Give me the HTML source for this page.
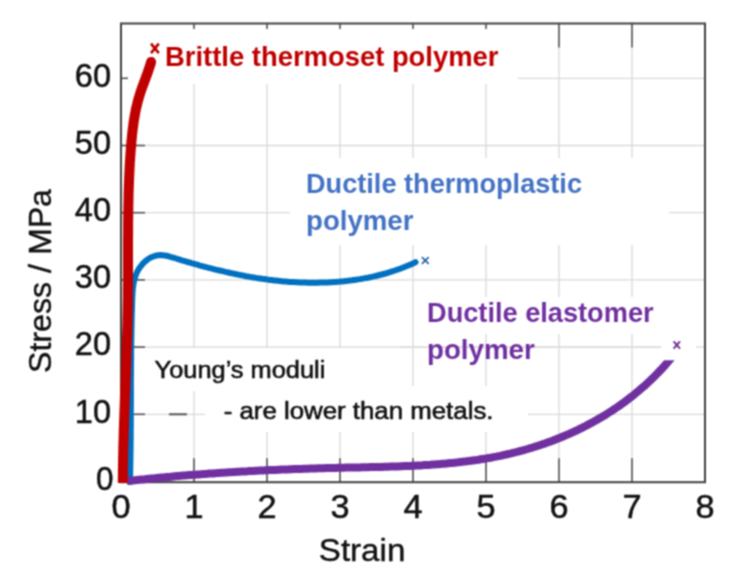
<!DOCTYPE html>
<html><head><meta charset="utf-8"><style>
html,body{margin:0;padding:0;background:#fff;width:753px;height:571px;overflow:hidden}
svg{display:block}
text{font-family:"Liberation Sans",sans-serif}
.tk{font-size:33.5px;fill:#111;stroke:#111;stroke-width:0.5px}
.ax{font-size:31px;fill:#111;stroke:#111;stroke-width:0.4px}
.lb{font-size:27.5px;font-weight:bold}
.yt{font-size:23px;fill:#111;stroke:#111;stroke-width:0.55px}
.mk{font-size:19px;font-weight:bold}
.mk2{font-size:14px;font-weight:bold}
</style></head><body>
<svg width="753" height="571" viewBox="0 0 753 571">
<defs><filter id="bl" x="0" y="0" width="753" height="571" filterUnits="userSpaceOnUse" color-interpolation-filters="sRGB"><feConvolveMatrix order="3" kernelMatrix="1 2 1 2 4 2 1 2 1" divisor="16" edgeMode="duplicate"/></filter></defs><g filter="url(#bl)">
<rect x="0" y="0" width="753" height="571" fill="#fff"/>
<line x1="194.0" y1="23.5" x2="194.0" y2="482.2" stroke="#d9d9d9" stroke-width="1.3"/>
<line x1="267.0" y1="23.5" x2="267.0" y2="482.2" stroke="#d9d9d9" stroke-width="1.3"/>
<line x1="340.0" y1="23.5" x2="340.0" y2="482.2" stroke="#d9d9d9" stroke-width="1.3"/>
<line x1="413.0" y1="23.5" x2="413.0" y2="482.2" stroke="#d9d9d9" stroke-width="1.3"/>
<line x1="486.0" y1="23.5" x2="486.0" y2="482.2" stroke="#d9d9d9" stroke-width="1.3"/>
<line x1="559.0" y1="23.5" x2="559.0" y2="482.2" stroke="#d9d9d9" stroke-width="1.3"/>
<line x1="632.0" y1="23.5" x2="632.0" y2="482.2" stroke="#d9d9d9" stroke-width="1.3"/>
<line x1="121" y1="414.3" x2="705" y2="414.3" stroke="#d9d9d9" stroke-width="1.3"/>
<line x1="121" y1="347.1" x2="705" y2="347.1" stroke="#d9d9d9" stroke-width="1.3"/>
<line x1="121" y1="279.9" x2="705" y2="279.9" stroke="#d9d9d9" stroke-width="1.3"/>
<line x1="121" y1="212.7" x2="705" y2="212.7" stroke="#d9d9d9" stroke-width="1.3"/>
<line x1="121" y1="145.5" x2="705" y2="145.5" stroke="#d9d9d9" stroke-width="1.3"/>
<line x1="121" y1="78.3" x2="705" y2="78.3" stroke="#d9d9d9" stroke-width="1.3"/>
<line x1="194.0" y1="23.5" x2="194.0" y2="47.5" stroke="#555555" stroke-width="1.6"/>
<line x1="194.0" y1="482.2" x2="194.0" y2="458.2" stroke="#555555" stroke-width="1.6"/>
<line x1="267.0" y1="23.5" x2="267.0" y2="47.5" stroke="#555555" stroke-width="1.6"/>
<line x1="267.0" y1="482.2" x2="267.0" y2="458.2" stroke="#555555" stroke-width="1.6"/>
<line x1="340.0" y1="23.5" x2="340.0" y2="47.5" stroke="#555555" stroke-width="1.6"/>
<line x1="340.0" y1="482.2" x2="340.0" y2="458.2" stroke="#555555" stroke-width="1.6"/>
<line x1="413.0" y1="23.5" x2="413.0" y2="47.5" stroke="#555555" stroke-width="1.6"/>
<line x1="413.0" y1="482.2" x2="413.0" y2="458.2" stroke="#555555" stroke-width="1.6"/>
<line x1="486.0" y1="23.5" x2="486.0" y2="47.5" stroke="#555555" stroke-width="1.6"/>
<line x1="486.0" y1="482.2" x2="486.0" y2="458.2" stroke="#555555" stroke-width="1.6"/>
<line x1="559.0" y1="23.5" x2="559.0" y2="47.5" stroke="#555555" stroke-width="1.6"/>
<line x1="559.0" y1="482.2" x2="559.0" y2="458.2" stroke="#555555" stroke-width="1.6"/>
<line x1="632.0" y1="23.5" x2="632.0" y2="47.5" stroke="#555555" stroke-width="1.6"/>
<line x1="632.0" y1="482.2" x2="632.0" y2="458.2" stroke="#555555" stroke-width="1.6"/>
<line x1="121" y1="414.3" x2="145" y2="414.3" stroke="#555555" stroke-width="1.6"/>
<line x1="121" y1="347.1" x2="145" y2="347.1" stroke="#555555" stroke-width="1.6"/>
<line x1="121" y1="279.9" x2="145" y2="279.9" stroke="#555555" stroke-width="1.6"/>
<line x1="121" y1="212.7" x2="145" y2="212.7" stroke="#555555" stroke-width="1.6"/>
<line x1="121" y1="145.5" x2="145" y2="145.5" stroke="#555555" stroke-width="1.6"/>
<line x1="121" y1="78.3" x2="145" y2="78.3" stroke="#555555" stroke-width="1.6"/>
<rect x="128" y="29" width="390" height="55" fill="#fff"/>
<rect x="290" y="158" width="379" height="87" fill="#fff"/>
<rect x="139" y="348" width="212" height="43" fill="#fff"/>
<rect x="205" y="386" width="323" height="46" fill="#fff"/>
<rect x="418" y="297" width="247" height="37" fill="#fff"/>
<rect x="661" y="337" width="35" height="18" fill="#fff"/>
<line x1="400" y1="347.1" x2="661" y2="347.1" stroke="#d9d9d9" stroke-width="1.3"/>
<line x1="169" y1="414.3" x2="187" y2="414.3" stroke="#555" stroke-width="2"/>
<rect x="121" y="23.5" width="584" height="458.7" fill="none" stroke="#404040" stroke-width="2"/>
<text x="96.0" y="489.7" class="tk" textLength="17.5" lengthAdjust="spacingAndGlyphs">0</text>
<text x="74.8" y="422.5" class="tk" textLength="36.2" lengthAdjust="spacingAndGlyphs">10</text>
<text x="74.8" y="355.3" class="tk" textLength="36.2" lengthAdjust="spacingAndGlyphs">20</text>
<text x="74.8" y="288.1" class="tk" textLength="36.2" lengthAdjust="spacingAndGlyphs">30</text>
<text x="74.8" y="220.9" class="tk" textLength="36.2" lengthAdjust="spacingAndGlyphs">40</text>
<text x="74.8" y="153.7" class="tk" textLength="36.2" lengthAdjust="spacingAndGlyphs">50</text>
<text x="74.8" y="86.5" class="tk" textLength="36.2" lengthAdjust="spacingAndGlyphs">60</text>
<text x="111.5" y="518" class="tk" textLength="19.1" lengthAdjust="spacingAndGlyphs">0</text>
<text x="184.4" y="518" class="tk" textLength="19.1" lengthAdjust="spacingAndGlyphs">1</text>
<text x="257.4" y="518" class="tk" textLength="19.1" lengthAdjust="spacingAndGlyphs">2</text>
<text x="330.4" y="518" class="tk" textLength="19.1" lengthAdjust="spacingAndGlyphs">3</text>
<text x="403.4" y="518" class="tk" textLength="19.1" lengthAdjust="spacingAndGlyphs">4</text>
<text x="476.4" y="518" class="tk" textLength="19.1" lengthAdjust="spacingAndGlyphs">5</text>
<text x="549.5" y="518" class="tk" textLength="19.1" lengthAdjust="spacingAndGlyphs">6</text>
<text x="622.5" y="518" class="tk" textLength="19.1" lengthAdjust="spacingAndGlyphs">7</text>
<text x="695.5" y="518" class="tk" textLength="19.1" lengthAdjust="spacingAndGlyphs">8</text>
<text x="318.8" y="561" class="ax" textLength="86.5" lengthAdjust="spacingAndGlyphs">Strain</text>
<text transform="translate(50.8,373) rotate(-90)" x="0" y="0" class="ax" textLength="184" lengthAdjust="spacingAndGlyphs">Stress / MPa</text>
<path d="M129.9,482.0 L130.0,480.0 L130.1,478.0 L130.1,476.0 L130.1,474.0 L130.2,472.0 L130.2,470.0 L130.3,468.0 L130.3,466.0 L130.3,464.0 L130.4,462.0 L130.4,460.0 L130.4,457.9 L130.5,455.9 L130.5,453.9 L130.5,451.9 L130.6,449.9 L130.6,447.9 L130.6,445.9 L130.6,443.9 L130.6,441.9 L130.7,439.9 L130.7,437.9 L130.7,435.9 L130.7,433.9 L130.7,431.8 L130.7,429.8 L130.8,427.8 L130.8,425.8 L130.8,423.8 L130.8,421.8 L130.8,419.8 L130.8,417.8 L130.8,415.8 L130.8,413.8 L130.8,411.8 L130.8,409.8 L130.8,407.7 L130.9,405.7 L130.9,403.7 L130.9,401.7 L130.9,399.7 L130.9,397.7 L130.9,395.7 L130.9,393.7 L130.9,391.7 L130.9,389.7 L130.9,387.7 L130.9,385.7 L130.9,383.6 L130.9,381.6 L130.9,379.6 L130.9,377.6 L131.0,375.6 L131.0,373.6 L131.0,371.6 L131.0,369.6 L131.0,367.6 L131.0,365.6 L131.0,363.6 L131.0,361.6 L131.1,359.6 L131.1,357.5 L131.1,355.5 L131.1,353.5 L131.1,351.5 L131.1,349.5 L131.2,347.5 L131.2,345.5 L131.2,343.5 L131.2,341.5 L131.3,339.5 L131.3,337.5 L131.3,335.5 L131.4,333.4 L131.4,331.4 L131.4,329.4 L131.5,327.4 L131.5,325.4 L131.6,323.4 L131.6,321.4 L131.6,319.4 L131.7,317.4 L131.7,315.4 L131.8,313.4 L131.9,311.4 L131.9,309.4 L132.0,307.3 L132.0,305.3 L132.1,303.3 L132.2,301.3 L132.2,299.3 L132.3,297.3 L132.4,295.3 L132.5,293.3 L132.6,291.3 L132.8,289.3 L133.0,287.3 L133.3,285.3 L133.6,283.3 L134.0,281.4 L134.4,279.4 L135.0,277.5 L135.6,275.6 L136.4,273.7 L137.2,271.9 L138.2,270.1 L139.2,268.4 L140.3,266.7 L141.6,265.2 L142.9,263.6 L144.3,262.2 L145.8,260.9 L147.4,259.6 L149.0,258.5 L150.8,257.5 L152.6,256.7 L154.5,256.0 L156.4,255.5 L158.4,255.2 L160.4,255.1 L162.4,255.2 L164.4,255.4 L166.4,255.8 L168.3,256.2 L170.3,256.8 L172.2,257.3 L174.1,257.9 L176.1,258.5 L178.0,259.1 L179.9,259.7 L181.8,260.3 L183.7,260.8 L185.7,261.4 L187.6,262.0 L189.5,262.5 L191.5,263.1 L193.4,263.6 L195.3,264.2 L197.3,264.7 L199.2,265.3 L201.1,265.8 L203.1,266.3 L205.0,266.8 L206.9,267.3 L208.9,267.8 L210.8,268.3 L212.8,268.8 L214.7,269.3 L216.7,269.8 L218.6,270.3 L220.6,270.7 L222.5,271.2 L224.5,271.7 L226.4,272.1 L228.4,272.5 L230.4,273.0 L232.3,273.4 L234.3,273.8 L236.3,274.2 L238.2,274.6 L240.2,275.0 L242.2,275.4 L244.1,275.8 L246.1,276.2 L248.1,276.5 L250.1,276.9 L252.0,277.2 L254.0,277.5 L256.0,277.9 L258.0,278.2 L260.0,278.5 L262.0,278.8 L264.0,279.1 L265.9,279.3 L267.9,279.6 L269.9,279.9 L271.9,280.1 L273.9,280.4 L275.9,280.6 L277.9,280.8 L279.9,281.0 L281.9,281.2 L283.9,281.4 L285.9,281.5 L287.9,281.7 L289.9,281.9 L291.9,282.0 L293.9,282.1 L295.9,282.2 L297.9,282.3 L299.9,282.4 L301.9,282.5 L303.9,282.6 L306.0,282.6 L308.0,282.7 L310.0,282.7 L312.0,282.7 L314.0,282.7 L316.0,282.7 L318.0,282.7 L320.0,282.6 L322.0,282.6 L324.0,282.5 L326.0,282.5 L328.0,282.4 L330.0,282.3 L332.0,282.2 L334.1,282.0 L336.1,281.9 L338.1,281.7 L340.1,281.6 L342.1,281.4 L344.1,281.2 L346.1,281.0 L348.0,280.8 L350.0,280.5 L352.0,280.3 L354.0,280.0 L356.0,279.7 L358.0,279.4 L360.0,279.1 L362.0,278.7 L363.9,278.4 L365.9,278.0 L367.9,277.7 L369.9,277.3 L371.8,276.8 L373.8,276.4 L375.7,276.0 L377.7,275.5 L379.6,275.0 L381.6,274.5 L383.5,274.0 L385.5,273.5 L387.4,272.9 L389.3,272.3 L391.2,271.7 L393.1,271.1 L395.0,270.5 L396.9,269.8 L398.8,269.2 L400.7,268.5 L402.6,267.8 L404.5,267.0 L406.3,266.3 L408.2,265.5 L410.0,264.7 L411.9,263.9 L413.7,263.1 L415.5,262.2" fill="none" stroke="#0070c0" stroke-width="6" stroke-linecap="round"/>
<clipPath id="pc"><rect x="0" y="360.2" width="753" height="211"/></clipPath>
<path d="M127.0,481.1 L129.0,480.8 L131.0,480.6 L133.0,480.4 L135.0,480.2 L137.0,480.0 L139.0,479.8 L141.0,479.6 L143.0,479.4 L145.0,479.2 L147.0,478.9 L149.0,478.7 L151.0,478.5 L153.0,478.4 L155.0,478.2 L157.0,478.0 L159.0,477.8 L161.0,477.6 L163.0,477.4 L165.0,477.2 L167.0,477.0 L169.0,476.9 L171.1,476.7 L173.1,476.5 L175.1,476.3 L177.1,476.1 L179.1,476.0 L181.1,475.8 L183.1,475.6 L185.1,475.5 L187.1,475.3 L189.1,475.1 L191.1,475.0 L193.1,474.8 L195.1,474.7 L197.1,474.5 L199.1,474.4 L201.2,474.2 L203.2,474.1 L205.2,473.9 L207.2,473.8 L209.2,473.6 L211.2,473.5 L213.2,473.4 L215.2,473.2 L217.2,473.1 L219.2,472.9 L221.2,472.8 L223.2,472.7 L225.3,472.6 L227.3,472.4 L229.3,472.3 L231.3,472.2 L233.3,472.1 L235.3,471.9 L237.3,471.8 L239.3,471.7 L241.3,471.6 L243.3,471.5 L245.4,471.4 L247.4,471.3 L249.4,471.1 L251.4,471.0 L253.4,470.9 L255.4,470.8 L257.4,470.7 L259.4,470.6 L261.4,470.5 L263.4,470.4 L265.5,470.3 L267.5,470.2 L269.5,470.1 L271.5,470.1 L273.5,470.0 L275.5,469.9 L277.5,469.8 L279.5,469.7 L281.5,469.6 L283.6,469.5 L285.6,469.5 L287.6,469.4 L289.6,469.3 L291.6,469.2 L293.6,469.1 L295.6,469.1 L297.6,469.0 L299.7,468.9 L301.7,468.9 L303.7,468.8 L305.7,468.7 L307.7,468.7 L309.7,468.6 L311.7,468.5 L313.7,468.5 L315.8,468.4 L317.8,468.3 L319.8,468.3 L321.8,468.2 L323.8,468.2 L325.8,468.1 L327.8,468.1 L329.8,468.0 L331.9,468.0 L333.9,467.9 L335.9,467.9 L337.9,467.8 L339.9,467.8 L341.9,467.7 L343.9,467.7 L345.9,467.6 L348.0,467.6 L350.0,467.6 L352.0,467.5 L354.0,467.5 L356.0,467.4 L358.0,467.4 L360.0,467.4 L362.0,467.3 L364.1,467.3 L366.1,467.2 L368.1,467.2 L370.1,467.1 L372.1,467.1 L374.1,467.1 L376.1,467.0 L378.2,467.0 L380.2,466.9 L382.2,466.9 L384.2,466.8 L386.2,466.7 L388.2,466.7 L390.2,466.6 L392.2,466.6 L394.3,466.5 L396.3,466.4 L398.3,466.4 L400.3,466.3 L402.3,466.2 L404.3,466.1 L406.3,466.1 L408.3,466.0 L410.3,465.9 L412.4,465.8 L414.4,465.7 L416.4,465.6 L418.4,465.5 L420.4,465.4 L422.4,465.3 L424.4,465.1 L426.4,465.0 L428.4,464.9 L430.4,464.8 L432.5,464.6 L434.5,464.5 L436.5,464.3 L438.5,464.2 L440.5,464.0 L442.5,463.8 L444.5,463.7 L446.5,463.5 L448.5,463.3 L450.5,463.1 L452.5,462.9 L454.5,462.7 L456.5,462.5 L458.5,462.3 L460.5,462.0 L462.5,461.8 L464.5,461.6 L466.5,461.3 L468.5,461.1 L470.5,460.8 L472.5,460.5 L474.5,460.2 L476.5,460.0 L478.5,459.7 L480.5,459.3 L482.5,459.0 L484.4,458.7 L486.4,458.4 L488.4,458.0 L490.4,457.7 L492.4,457.3 L494.4,456.9 L496.3,456.6 L498.3,456.2 L500.3,455.8 L502.3,455.3 L504.2,454.9 L506.2,454.5 L508.1,454.0 L510.1,453.6 L512.1,453.1 L514.0,452.6 L516.0,452.2 L517.9,451.7 L519.9,451.1 L521.8,450.6 L523.8,450.1 L525.7,449.5 L527.6,449.0 L529.6,448.4 L531.5,447.8 L533.4,447.3 L535.3,446.6 L537.3,446.0 L539.2,445.4 L541.1,444.8 L543.0,444.1 L544.9,443.5 L546.8,442.8 L548.7,442.1 L550.6,441.4 L552.5,440.7 L554.3,440.0 L556.2,439.3 L558.1,438.5 L560.0,437.8 L561.8,437.0 L563.7,436.2 L565.5,435.4 L567.4,434.6 L569.2,433.8 L571.1,433.0 L572.9,432.2 L574.7,431.3 L576.5,430.5 L578.4,429.6 L580.2,428.7 L582.0,427.8 L583.8,426.9 L585.6,426.0 L587.3,425.1 L589.1,424.1 L590.9,423.2 L592.7,422.2 L594.4,421.3 L596.2,420.3 L597.9,419.3 L599.7,418.3 L601.4,417.2 L603.1,416.2 L604.9,415.2 L606.6,414.1 L608.3,413.0 L610.0,411.9 L611.7,410.9 L613.3,409.7 L615.0,408.6 L616.7,407.5 L618.4,406.4 L620.0,405.2 L621.6,404.0 L623.3,402.9 L624.9,401.7 L626.5,400.5 L628.1,399.3 L629.7,398.0 L631.3,396.8 L632.9,395.6 L634.5,394.3 L636.0,393.0 L637.6,391.7 L639.1,390.5 L640.7,389.1 L642.2,387.8 L643.7,386.5 L645.2,385.2 L646.7,383.8 L648.2,382.4 L649.6,381.1 L651.1,379.7 L652.5,378.3 L654.0,376.9 L655.4,375.5 L656.8,374.0 L658.2,372.6 L659.6,371.1 L661.0,369.7 L662.4,368.2 L663.7,366.7 L665.1,365.2 L666.4,363.7 L667.7,362.2 L669.0,360.6 L670.3,359.1 L671.6,357.5 L672.9,356.0 L674.1,354.4 L675.4,352.8 L676.6,351.2" fill="none" stroke="#7030a0" stroke-width="8" stroke-linecap="butt" clip-path="url(#pc)"/>
<clipPath id="rc"><rect x="0" y="0" width="753" height="483"/></clipPath>
<path d="M122.8,490.0 L122.8,488.0 L122.8,486.0 L122.8,484.0 L122.8,482.0 L122.8,479.9 L122.8,477.9 L122.9,475.9 L122.9,473.9 L122.9,471.9 L122.9,469.9 L123.0,467.9 L123.0,465.8 L123.0,463.8 L123.1,461.8 L123.1,459.8 L123.1,457.8 L123.2,455.8 L123.2,453.8 L123.3,451.7 L123.3,449.7 L123.3,447.7 L123.4,445.7 L123.4,443.7 L123.5,441.7 L123.6,439.7 L123.6,437.6 L123.7,435.6 L123.7,433.6 L123.8,431.6 L123.8,429.6 L123.9,427.6 L124.0,425.6 L124.0,423.6 L124.1,421.5 L124.2,419.5 L124.2,417.5 L124.3,415.5 L124.4,413.5 L124.4,411.5 L124.5,409.5 L124.6,407.4 L124.7,405.4 L124.7,403.4 L124.8,401.4 L124.9,399.4 L124.9,397.4 L125.0,395.4 L125.1,393.4 L125.2,391.3 L125.2,389.3 L125.3,387.3 L125.4,385.3 L125.5,383.3 L125.5,381.3 L125.6,379.3 L125.7,377.3 L125.8,375.2 L125.8,373.2 L125.9,371.2 L126.0,369.2 L126.0,367.2 L126.1,365.2 L126.2,363.2 L126.3,361.2 L126.3,359.1 L126.4,357.1 L126.5,355.1 L126.5,353.1 L126.6,351.1 L126.7,349.1 L126.7,347.1 L126.8,345.0 L126.9,343.0 L126.9,341.0 L127.0,339.0 L127.0,337.0 L127.1,335.0 L127.2,333.0 L127.2,331.0 L127.3,328.9 L127.3,326.9 L127.4,324.9 L127.4,322.9 L127.5,320.9 L127.5,318.9 L127.5,316.9 L127.6,314.8 L127.6,312.8 L127.7,310.8 L127.7,308.8 L127.7,306.8 L127.8,304.8 L127.8,302.8 L127.8,300.7 L127.9,298.7 L127.9,296.7 L127.9,294.7 L127.9,292.7 L127.9,290.7 L127.9,288.7 L128.0,286.6 L128.0,284.6 L128.0,282.6 L128.0,280.6 L128.0,278.6 L128.0,276.6 L128.0,274.6 L128.0,272.5 L128.0,270.5 L128.0,268.5 L128.0,266.5 L128.0,264.5 L128.0,262.5 L128.0,260.5 L128.0,258.4 L128.0,256.4 L128.0,254.4 L128.0,252.4 L128.0,250.4 L128.0,248.4 L128.0,246.4 L128.0,244.3 L128.0,242.3 L128.0,240.3 L128.0,238.3 L128.1,236.3 L128.1,234.3 L128.1,232.3 L128.1,230.2 L128.1,228.2 L128.1,226.2 L128.1,224.2 L128.1,222.2 L128.1,220.2 L128.2,218.2 L128.2,216.1 L128.2,214.1 L128.2,212.1 L128.3,210.1 L128.3,208.1 L128.3,206.1 L128.4,204.1 L128.4,202.0 L128.5,200.0 L128.5,198.0 L128.5,196.0 L128.6,194.0 L128.6,192.0 L128.7,190.0 L128.8,188.0 L128.8,185.9 L128.9,183.9 L129.0,181.9 L129.1,179.9 L129.1,177.9 L129.2,175.9 L129.3,173.9 L129.4,171.8 L129.5,169.8 L129.6,167.8 L129.7,165.8 L129.8,163.8 L129.9,161.8 L130.1,159.8 L130.2,157.8 L130.3,155.8 L130.5,153.8 L130.6,151.7 L130.8,149.7 L130.9,147.7 L131.1,145.7 L131.3,143.7 L131.4,141.7 L131.6,139.7 L131.8,137.7 L132.0,135.7 L132.2,133.7 L132.4,131.7 L132.7,129.7 L132.9,127.7 L133.2,125.7 L133.4,123.7 L133.7,121.7 L134.0,119.7 L134.4,117.7 L134.7,115.7 L135.1,113.7 L135.4,111.8 L135.8,109.8 L136.2,107.8 L136.7,105.9 L137.2,103.9 L137.6,101.9 L138.2,100.0 L138.7,98.1 L139.3,96.1 L139.9,94.2 L140.5,92.3 L141.1,90.4 L141.8,88.5 L142.5,86.6 L143.2,84.7 L143.9,82.8 L144.6,80.9 L145.3,79.0 L146.0,77.1 L146.7,75.2 L147.4,73.4 L148.0,71.5 L148.7,69.6 L149.3,67.6 L150.0,65.7 L150.6,63.8 L151.1,61.9" fill="none" stroke="#c00000" stroke-width="10" stroke-linecap="round" clip-path="url(#rc)"/>
<path d="M151.0,43.6 L158.8,53.2 M158.8,43.6 L151.0,53.2" stroke="#c00000" stroke-width="2.7" fill="none"/>
<path d="M421.9,257.1 L428.7,263.9 M428.7,257.1 L421.9,263.9" stroke="#1a5f9e" stroke-width="1.5" fill="none"/>
<path d="M673.6,341.4 L680.0,348.6 M680.0,341.4 L673.6,348.6" stroke="#6a2c96" stroke-width="1.9" fill="none"/>
<text x="165" y="65.7" class="lb" fill="#c00000" textLength="333.5" lengthAdjust="spacingAndGlyphs">Brittle thermoset polymer</text>
<text x="306" y="193.3" class="lb" fill="#4472c4" textLength="276" lengthAdjust="spacingAndGlyphs">Ductile thermoplastic</text>
<text x="306" y="230.2" class="lb" fill="#4472c4" textLength="107.5" lengthAdjust="spacingAndGlyphs">polymer</text>
<text x="427" y="321.5" class="lb" fill="#7030a0" textLength="226.6" lengthAdjust="spacingAndGlyphs">Ductile elastomer</text>
<text x="427" y="359.3" class="lb" fill="#7030a0" textLength="107.7" lengthAdjust="spacingAndGlyphs">polymer</text>
<text x="154.6" y="378.2" class="yt" textLength="170.8" lengthAdjust="spacingAndGlyphs">Young’s moduli</text>
<text x="223.7" y="419" class="yt" textLength="269.8" lengthAdjust="spacingAndGlyphs">- are lower than metals.</text>
</g>
</svg>
</body></html>
